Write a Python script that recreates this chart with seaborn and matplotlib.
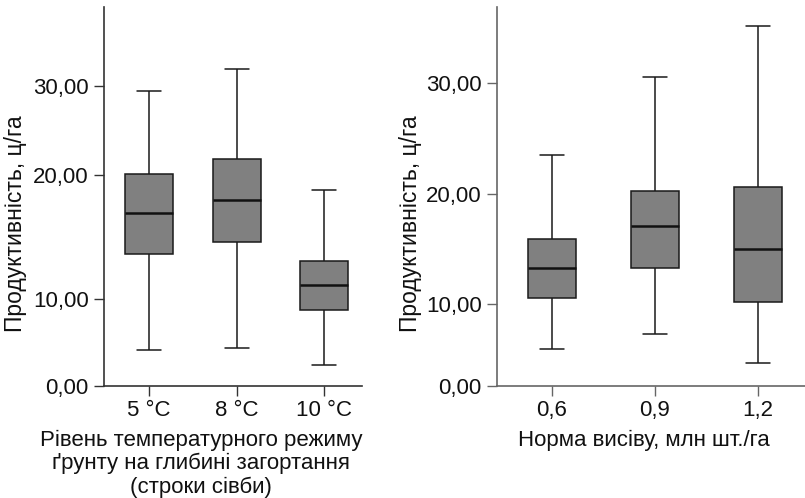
import matplotlib
matplotlib.use("Agg")
import matplotlib.pyplot as plt
import numpy as np
import pandas as pd
import seaborn as sns
from matplotlib.ticker import FuncFormatter

# five-number summaries: lower whisker, Q1, median, Q3, upper whisker
temp_levels = ["5 °C", "8 °C", "10 °C"]
temp_stats = [
    [4.14, 13.62, 16.92, 20.16, 29.44],
    [4.37, 14.62, 17.97, 21.84, 31.91],
    [2.45, 8.74, 11.11, 13.06, 18.82],
]

rate_levels = ["0,6", "0,9", "1,2"]
rate_stats = [
    [4.49, 10.55, 13.30, 15.94, 23.53],
    [6.36, 13.33, 17.15, 20.32, 30.48],
    [2.78, 10.18, 15.03, 20.66, 35.09],
]

y_ticks = [0, 10, 20, 30]
ylabel = "Продуктивність, ц/га"
xlabel_left = "Рівень температурного режиму\nґрунту на глибині загортання\n(строки сівби)"
xlabel_right = "Норма висіву, млн шт./га"

# the original axes are not evenly spaced between tick labels,
# so map tick values to their drawn heights (pixels above the x-axis)
left_axis_px = [0, 87.0, 210.3, 299.3]
right_axis_px = [0, 81.7, 191.7, 303.0]


def piecewise_scale(px):
    vals = np.array([-100.0] + y_ticks + [100.0])
    lo = px[0] - (px[1] - px[0]) * 10
    hi = px[-1] + (px[-1] - px[-2]) * 7
    u = np.array([lo] + list(px) + [hi])
    fwd = lambda v: np.interp(v, vals, u)
    inv = lambda w: np.interp(w, u, vals)
    return fwd, inv


def to_frame(levels, stats):
    rows = []
    for level, s in zip(levels, stats):
        for v in s:
            rows.append({"group": level, "value": v})
    return pd.DataFrame(rows)


sns.set_style("ticks")
plt.rcParams["font.family"] = ["Liberation Sans", "DejaVu Sans"]
plt.rcParams["font.size"] = 16

fig = plt.figure(figsize=(8.05, 4.98), dpi=100)
ax1 = fig.add_axes([104 / 805, 1 - 386 / 498, 258 / 805, 379 / 498])
ax2 = fig.add_axes([497 / 805, 1 - 386 / 498, 308 / 805, 379 / 498])

panels = [
    (ax1, temp_levels, temp_stats, left_axis_px, 0.55, 38.9, (-0.516, 2.432),
     xlabel_left, "#333333", (0.376, -0.116), (-0.298, 0.427)),
    (ax2, rate_levels, rate_stats, right_axis_px, 0.46, 36.8, (-0.533, 2.457),
     xlabel_right, "#666666", (0.477, -0.116), (-0.243, 0.427)),
]

for ax, levels, stats, px, width, ytop, xlim, xlabel, spine_col, xl_pos, yl_pos in panels:
    df = to_frame(levels, stats)
    fwd, inv = piecewise_scale(px)
    ax.set_yscale("function", functions=(fwd, inv))
    sns.boxplot(
        data=df, x="group", y="value", ax=ax,
        whis=(0, 100), width=width, color="#808080", saturation=1,
        linecolor="#1a1a1a", linewidth=1.1,
        medianprops={"linewidth": 1.8, "color": "#111111"},
    )
    ax.set_ylim(0, ytop)
    ax.set_xlim(*xlim)
    ax.set_yticks(y_ticks)
    ax.yaxis.set_major_formatter(FuncFormatter(lambda v, _: f"{v:.2f}".replace(".", ",")))
    ax.yaxis.set_minor_locator(matplotlib.ticker.NullLocator())
    ax.tick_params(axis="both", length=7, width=1, labelcolor="#111111", labelsize=16, pad=4)
    ax.tick_params(axis="x", pad=3, color=spine_col)
    ax.tick_params(axis="y", color=spine_col)
    for s in ["top", "right"]:
        ax.spines[s].set_visible(False)
    for s in ["left", "bottom"]:
        ax.spines[s].set_color(spine_col)
        ax.spines[s].set_linewidth(1.2)
    ax.set_ylabel(ylabel, fontsize=16.5, color="#111111")
    ax.set_xlabel(xlabel, fontsize=16, linespacing=1.12, color="#111111")
    ax.xaxis.set_label_coords(*xl_pos)
    ax.yaxis.set_label_coords(*yl_pos)

fig.savefig("out.png", dpi=100)
